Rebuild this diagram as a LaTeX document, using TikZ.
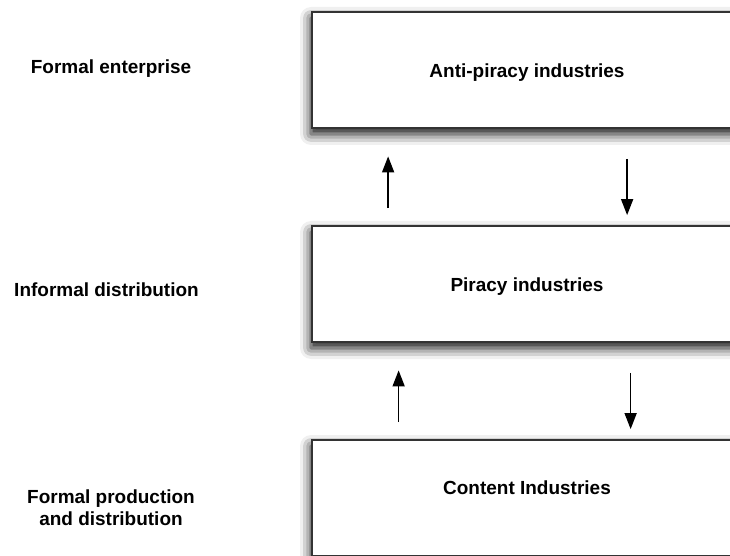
\documentclass[tikz,border=0pt]{standalone}
\usepackage{fontspec}
\setmainfont{Liberation Sans}
\usetikzlibrary{arrows.meta,shadows.blur}

\tikzset{
  tier/.style={draw=black!80, line width=.035cm, fill=white,
    minimum width=8.6cm, minimum height=2.32cm,
    text height=.3cm, text depth=0cm,
    blur shadow={shadow xshift=-.02cm, shadow yshift=-.12cm,
      shadow blur radius=.22cm, shadow opacity=95}},
  side/.style={align=center},
  flow/.style={line width=.03cm, -{Triangle[length=.32cm,width=.24cm]}},
  upflow/.style={flow, shorten <=.34cm, shorten >=.55cm},
  downflow/.style={flow, shorten <=.6cm, shorten >=.2cm}
}

\begin{document}
\begin{tikzpicture}[x=1cm,y=1cm,font=\fontsize{10.8}{12.5}\selectfont\bfseries]
 \useasboundingbox (0,0) rectangle (14.6,11.1);
 \clip (0,0) rectangle (14.6,11.1);

 % the three tiers
 \node[tier] (anti) at (10.54,9.70) {Anti-piracy industries};
 \node[tier] (pir) at (10.54,5.42) {Piracy industries};
 \node[tier, text depth=.46cm] (cont) at (10.54,1.14) {Content Industries};

 % what each tier stands for
 \node[side] (formal) at (2.22,9.72) {Formal enterprise};
 \node[side] (informal) at (2.13,5.30) {Informal distribution};
 \node[side] (prod) at (2.22,0.94) {Formal production\\and distribution};

 % flows between tiers
 \draw[upflow] ([xshift=1.54cm]pir.north west) -- ([xshift=1.54cm]anti.south west);
 \draw[downflow] ([xshift=6.32cm]anti.south west) -- ([xshift=6.32cm]pir.north west);
 \draw[upflow] ([xshift=1.75cm]cont.north west) -- ([xshift=1.75cm]pir.south west);
 \draw[downflow] ([xshift=6.39cm]pir.south west) -- ([xshift=6.39cm]cont.north west);
\end{tikzpicture}
\end{document}
